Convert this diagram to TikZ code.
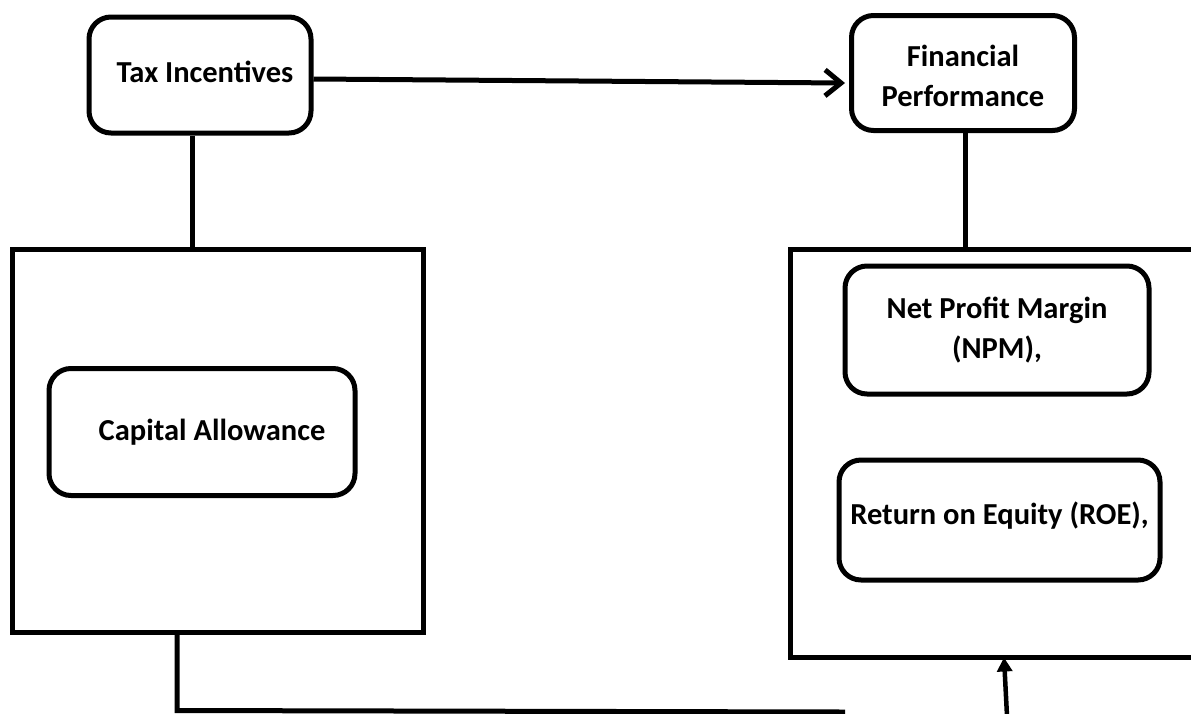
\documentclass[tikz,border=0pt]{standalone}
\usepackage{fontspec}
\setmainfont{Carlito}
\usetikzlibrary{arrows.meta}
\newcommand{\txtup}[2]{\raisebox{0pt}[\height][\dimexpr\depth+#1\relax]{#2}}
\newcommand{\txtdown}[2]{\raisebox{0pt}[\dimexpr\height+#1\relax][\depth]{#2}}
\begin{document}
\begin{tikzpicture}[x=1pt,y=-1pt,
  every node/.style={font=\fontsize{30.5}{40}\selectfont\bfseries, align=center, inner sep=0pt},
  roundbox/.style={draw, line width=5pt, rounded corners=22pt, rectangle},
  bigbox/.style={draw, line width=5pt, rectangle},
  conn/.style={line width=5pt},
  openarrow/.style={conn, -{Straight Barb[length=16pt,width=26pt,line width=5pt]}},
  fillarrow/.style={line width=4.5pt, -{Triangle[length=14pt,width=15pt]}}]
\useasboundingbox (0,0) rectangle (1191,713);
\clip (0,0) rectangle (1191,713);
\fill[white] (0,0) rectangle (1191,713);
% big containers
\node[bigbox, minimum width=411pt, minimum height=383pt] (lbox) at (218,440.5) {};
\node[bigbox, minimum width=430pt, minimum height=408pt] (rbox) at (1005,453) {};
% rounded boxes
\node[roundbox, minimum width=222pt, minimum height=116pt] (tax) at (200,75) {\txtup{6pt}{\hspace*{10pt}Tax Incentives}};
\node[roundbox, minimum width=223pt, minimum height=115pt] (fp) at (963,73) {\txtdown{11pt}{\begin{tabular}{@{}c@{}}Financial\\Performance\end{tabular}}};
\node[roundbox, minimum width=306pt, minimum height=127pt] (ca) at (202,432) {\hspace*{20pt}Capital Allowance};
\node[roundbox, minimum width=304pt, minimum height=128pt] (npm) at (997,330) {Net Profit Margin\\(NPM),};
\node[roundbox, minimum width=321pt, minimum height=120pt] (roe) at (999.5,520) {\txtup{8pt}{Return on Equity (ROE),}};
% connectors
\draw[openarrow] ([yshift=-4pt]tax.east) -- ([yshift=-10pt,xshift=-4pt]fp.west);
\draw[conn] ([xshift=-8pt]tax.south) -- ([xshift=-8pt]tax.south |- lbox.north);
\draw[conn] ([xshift=2pt]fp.south) -- ([xshift=2pt]fp.south |- rbox.north);
\coordinate (lineend) at (845,712);
\draw[conn] ([xshift=-41pt]lbox.south) -- ++(0,76) -- (lineend);
\coordinate (arrstart) at (1007,716);
\draw[fillarrow] (arrstart) -- ([xshift=-1pt,yshift=2pt]rbox.south);
\end{tikzpicture}
\end{document}
